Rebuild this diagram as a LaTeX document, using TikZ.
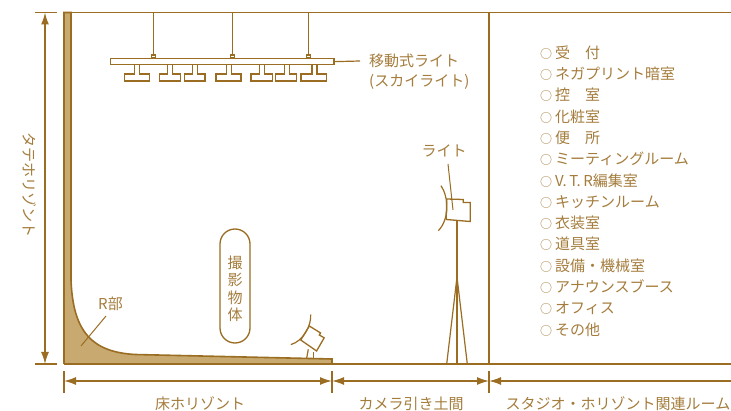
\documentclass[tikz,border=0pt]{standalone}
\usepackage{fontspec}
\setmainfont{Noto Sans CJK JP}
\usetikzlibrary{arrows.meta}
\definecolor{wood}{HTML}{9A6D22}
\definecolor{sand}{HTML}{C8A96F}
\definecolor{ink}{HTML}{A47C3C}

% one hanging lamp under the rail: box left/right edge
\newcommand\skylamp[2]{%
  \pgfmathsetmacro\lampmid{(#1+#2)/2+0.5}%
  \draw[lamp] (\lampmid-2.5,64) -- (\lampmid-2.5,74) -- (#1,74) -- (#1,81)
    -- (#2,81) -- (#2,74) -- (\lampmid+2.5,74) -- (\lampmid+2.5,64);}

\begin{document}
\begin{tikzpicture}[x=1pt,y=-1pt,
  wallline/.style={draw=wood,line width=1.6pt},
  thinline/.style={draw=wood,line width=1.2pt},
  lamp/.style={draw=wood,line width=1.3pt,line join=miter},
  dimline/.style={draw=wood,line width=1.4pt},
  tickline/.style={draw=wood,line width=1.2pt},
  tipL/.style={arrows={Latex[length=12pt,width=8pt]-}},
  tipR/.style={arrows={-Latex[length=12pt,width=8pt]}},
  tipLR/.style={arrows={Latex[length=12pt,width=8pt]-Latex[length=12pt,width=8pt]}},
  lbl/.style={text=ink,font=\fontsize{15pt}{18pt}\selectfont,inner sep=0pt},
  item/.style={lbl,anchor=west},
]
\useasboundingbox (0,0) rectangle (731,411);

% ---- studio shell: wall, cove (R) and floor horizon
\fill[sand] (64,12.5) -- (71,12.5) -- (71,280)
  .. controls (73,332) and (92,352) .. (135,354.5)
  -- (332,359) -- (332,364) -- (64,364) -- cycle;
\draw[wallline] (64,364) -- (64,12.5) -- (71,12.5) -- (71,280)
  .. controls (73,332) and (92,352) .. (135,354.5)
  -- (332,359) -- (332,364);
\draw[wallline] (64,12.5) -- (731,12.5);
\draw[wallline] (64,364) -- (731,364);
\draw[wallline] (489,12.5) -- (489,364);

% ---- moving sky light
\foreach \hx in {153.3,232.3,308.3} {
  \draw[thinline] (\hx,12.5) -- (\hx,55);
  \draw[thinline] (\hx-2,55) rectangle (\hx+2,58);
}
\node[draw=wood,line width=1.3pt,minimum width=223.3pt,minimum height=6pt,
  inner sep=0pt,anchor=north west] (rail) at (110,58) {};
\skylamp{124.3}{149.3}
\skylamp{159.3}{180.3}
\skylamp{184.3}{205}
\skylamp{216}{241}
\skylamp{251}{272.3}
\skylamp{275.7}{296.7}
\skylamp{301}{326.7}
\node[lbl,anchor=west,align=left,font=\fontsize{15pt}{20pt}\selectfont]
  (skytext) at (369,71.5) {移動式ライト\\(スカイライト)};
\coordinate (skyend) at (360,61);
\draw[thinline] (rail.east) -- (skyend);

% ---- stand light
\begin{scope}[shift={(446.7,199)}]
  \draw[lamp] (0,0) -- (16.5,0.5) -- (16.5,3.5) -- (23.5,3.5) -- (23.5,22.5)
    -- (-0.5,20.5) -- cycle;
  \draw[thinline] (-5.7,-13.3) .. controls (2,-2) and (3,20) .. (-8.4,31.7);
\end{scope}
\coordinate (poletop) at (457,221);
\coordinate (polefoot) at (457,364);
\coordinate (apex) at (457,277);
\coordinate (legL) at (446.7,364);
\coordinate (legR) at (467.3,364);
\draw[thinline] (poletop) -- (polefoot);
\draw[thinline] (legL) -- (apex) -- (legR);
\node[lbl] (standtext) at (444,151) {ライト};
\coordinate (standptr) at (453,210);
\draw[wood,line width=1pt] (448,164) -- (standptr);

% ---- floor light
\begin{scope}[shift={(309.3,326)},rotate=-30,scale=0.8]
  \draw[lamp] (0,0) -- (16.5,0.5) -- (16.5,3.5) -- (23.5,3.5) -- (23.5,22.5)
    -- (-0.5,20.5) -- cycle;
  \draw[thinline] (-5.7,-13.3) .. controls (2,-2) and (3,20) .. (-8.4,31.7);
\end{scope}
\draw[thinline] (308.3,349.3) -- (306.7,358);
\draw[thinline] (313.3,351.7) -- (313.3,358.5);

% ---- subject
\node[draw=wood,line width=1.3pt,rounded corners=15pt,minimum width=30pt,
  minimum height=114pt,inner sep=0pt] (subject) at (235,286) {};
\node[lbl,align=center,font=\fontsize{15pt}{17.5pt}\selectfont]
  (subjecttext) at (235,289) {撮\\影\\物\\体};

% ---- R part
\node[lbl] (rtext) at (110.5,304) {R部};
\draw[wood,line width=1pt] (106,316) -- (81,346);

% ---- vertical dimension
\draw[tickline] (35,12.5) -- (57,12.5);
\draw[tickline] (35,364) -- (57,364);
\coordinate (vtop) at (45,12.5);
\coordinate (vbot) at (45,364);
\draw[dimline,tipLR] (vtop) -- (vbot);
\node[lbl,rotate=-90] (vtext) at (29.5,185.5) {タテホリゾント};

% ---- horizontal dimensions
\foreach \tx in {64,332,489} \draw[tickline] (\tx,371) -- (\tx,393);
\coordinate (h0) at (64,381);
\coordinate (h1) at (332,381);
\coordinate (h2) at (489,381);
\coordinate (h3) at (731,381);
\draw[dimline,tipLR] (h0) -- (h1);
\draw[dimline,tipLR] (h1) -- (h2);
\draw[dimline,tipL] (h2) -- (h3);
\node[lbl] (floortext) at (200,404) {床ホリゾント};
\node[lbl] (camtext) at (411,404) {カメラ引き土間};
\node[lbl] (roomtext) at (618,404) {スタジオ・ホリゾント関連ルーム};

% ---- related rooms
\foreach \txt [count=\i from 0] in {受　付,ネガプリント暗室,控　室,化粧室,便　所,
  ミーティングルーム,V.\,T.\,R編集室,キッチンルーム,衣装室,道具室,設備・機械室,
  アナウンスブース,オフィス,その他} {
  \node[item] (room\i) at (540,52.7+21.28*\i)
    {{\fontsize{12pt}{12pt}\selectfont ○}\hspace{3pt}\txt};
}
\end{tikzpicture}
\end{document}
